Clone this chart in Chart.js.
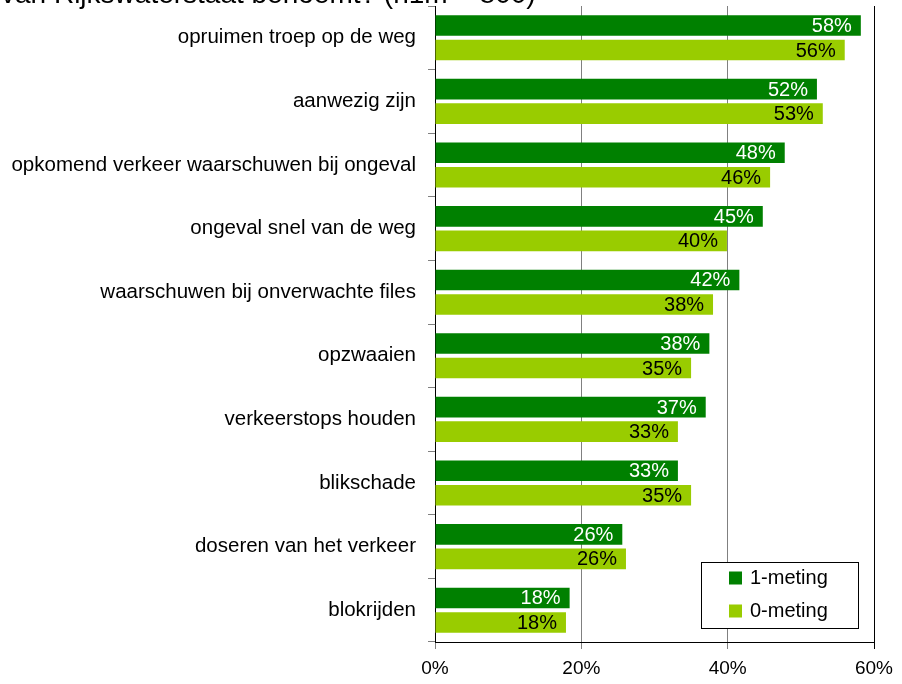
<!DOCTYPE html>
<html>
<head>
<meta charset="utf-8">
<script src="https://cdn.jsdelivr.net/npm/chart.js@4/dist/chart.umd.min.js"></script>
<style>
html,body{margin:0;padding:0;background:#fff;}
#wrap{width:902px;height:684px;position:relative;}
</style>
</head>
<body>
<div id="wrap"><canvas id="c" width="902" height="684"></canvas></div>
<script>
const titleText = "van Rijkswaterstaat benoemt? (n1m = 800)";
const categories = [
  "opruimen troep op de weg",
  "aanwezig zijn",
  "opkomend verkeer waarschuwen bij ongeval",
  "ongeval snel van de weg",
  "waarschuwen bij onverwachte files",
  "opzwaaien",
  "verkeerstops houden",
  "blikschade",
  "doseren van het verkeer",
  "blokrijden"
];
const meting1 = [58.2, 52.2, 47.8, 44.8, 41.6, 37.5, 37.0, 33.2, 25.6, 18.4];
const meting0 = [56.0, 53.0, 45.8, 39.9, 38.0, 35.0, 33.2, 35.0, 26.1, 17.9];
const seriesNames = ["1-meting", "0-meting"];
const xTicks = [0, 20, 40, 60];

const FONT = "'Liberation Sans', Arial, sans-serif";

const labelPlugin = {
  id: 'barLabels',
  afterDatasetsDraw(chart) {
    const ctx = chart.ctx;
    ctx.save();
    ctx.font = "20px " + FONT;
    ctx.textAlign = 'right';
    ctx.textBaseline = 'middle';
    chart.data.datasets.forEach((ds, i) => {
      const meta = chart.getDatasetMeta(i);
      meta.data.forEach((bar, j) => {
        ctx.fillStyle = i === 0 ? '#ffffff' : '#000000';
        ctx.fillText(Math.round(ds.data[j]) + '%', bar.x - 9, bar.y + 1);
      });
    });
    ctx.restore();
  },
  afterDraw(chart) {
    const ctx = chart.ctx;
    ctx.save();
    // title (partially cut off at top)
    ctx.font = "28px " + FONT;
    ctx.fillStyle = '#000';
    ctx.textAlign = 'left';
    ctx.textBaseline = 'alphabetic';
    ctx.fillText(titleText, 1, 3);
    // legend box
    const lx = 701.5, ly = 562.5, lw = 157, lh = 66;
    ctx.fillStyle = '#fff';
    ctx.fillRect(lx, ly, lw, lh);
    ctx.strokeStyle = '#000';
    ctx.lineWidth = 1;
    ctx.strokeRect(lx, ly, lw, lh);
    ctx.font = "20px " + FONT;
    ctx.textBaseline = 'middle';
    chart.data.datasets.forEach((ds, i) => {
      const cy = 578 + i * 33;
      ctx.fillStyle = ds.backgroundColor;
      ctx.fillRect(729, cy - 6.5, 13, 13);
      ctx.fillStyle = '#000';
      ctx.fillText(ds.label, 750, cy);
    });
    ctx.restore();
  }
};

new Chart(document.getElementById('c'), {
  type: 'bar',
  data: {
    labels: categories,
    datasets: [
      { label: seriesNames[0], data: meting1, backgroundColor: '#008000', categoryPercentage: 0.77, barPercentage: 0.84 },
      { label: seriesNames[1], data: meting0, backgroundColor: '#99cc00', categoryPercentage: 0.77, barPercentage: 0.84 }
    ]
  },
  options: {
    indexAxis: 'y',
    responsive: false,
    animation: false,
    layout: { padding: { top: 6, right: 28, left: 0, bottom: 0 } },
    plugins: { legend: { display: false }, tooltip: { enabled: false }, title: { display: false } },
    scales: {
      x: {
        min: 0, max: 60,
        afterBuildTicks(scale) { scale.ticks = xTicks.map(v => ({ value: v })); },
        afterFit(scale) { scale.height = 42; scale.paddingLeft = 0; scale.paddingRight = 0; },
        ticks: {
          callback: v => v + '%',
          color: '#000',
          font: { family: FONT, size: 19 },
          padding: 8
        },
        grid: {
          color: ctx => (ctx.tick && ctx.tick.value === 60) ? '#000000' : '#808080',
          lineWidth: 1,
          tickLength: 7,
          drawOnChartArea: true
        },
        border: { display: true, color: '#000' }
      },
      y: {
        afterFit(scale) { scale.width = 435; scale.paddingTop = 0; scale.paddingBottom = 0; },
        ticks: {
          color: '#000',
          font: { family: FONT, size: 20.5 },
          padding: 12,
          autoSkip: false
        },
        grid: {
          offset: true,
          drawOnChartArea: false,
          tickLength: 7,
          color: '#808080'
        },
        border: { display: true, color: '#000' }
      }
    }
  },
  plugins: [labelPlugin]
});
</script>
</body>
</html>
